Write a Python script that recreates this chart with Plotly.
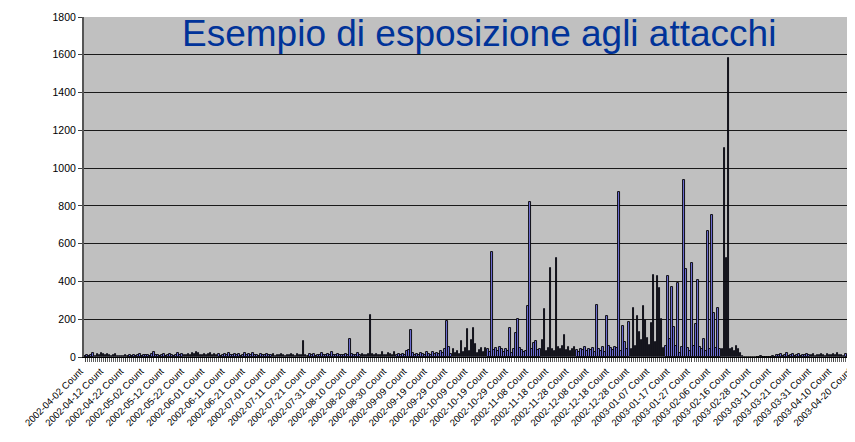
import plotly.graph_objects as go

# Daily attack counts (one value per category, in order)
counts = [
    5, 8, 3, 12, 20, 6, 14, 10, 22, 15,
    8, 18, 12, 5, 9, 14, 4, 7, 3, 6,
    10, 4, 8, 6, 12, 5, 9, 15, 7, 11,
    8, 13, 6, 18, 28, 9, 12, 6, 10, 14,
    7, 11, 16, 9, 6, 13, 20, 8, 15, 10,
    12, 18, 9, 22, 14, 24, 20, 8, 12, 16,
    10, 14, 20, 9, 15, 11, 18, 7, 13, 16,
    9, 21, 12, 8, 15, 10, 17, 6, 12, 19,
    11, 14, 8, 22, 10, 13, 7, 16, 9, 12,
    15, 8, 11, 18, 6, 12, 9, 14, 10, 7,
    13, 9, 16, 11, 6, 14, 8, 10, 85, 12,
    7, 18, 10, 15, 6, 12, 9, 20, 11, 8,
    14, 10, 25, 12, 9, 16, 8, 13, 10, 18,
    11, 95, 14, 8, 12, 20, 9, 15, 10, 13,
    18, 222, 14, 10, 16, 8, 12, 28, 11, 9,
    20, 15, 10, 24, 13, 18, 9, 16, 12, 30,
    35, 143, 20, 12, 18, 9, 22, 14, 10, 25,
    16, 12, 28, 14, 20, 18, 32, 22, 40, 190,
    53, 15, 42, 20, 31, 18, 85, 25, 48, 146,
    30, 90, 152, 69, 20, 35, 48, 28, 48, 40,
    25, 557, 35, 47, 30, 52, 40, 28, 45, 30,
    153, 22, 40, 127, 199, 47, 35, 28, 30, 270,
    820, 40, 74, 85, 35, 45, 90, 254, 30, 50,
    471, 45, 30, 524, 53, 40, 60, 115, 35, 52,
    30, 45, 52, 38, 25, 40, 35, 52, 30, 42,
    35, 48, 28, 273, 40, 30, 55, 25, 215, 60,
    50, 38, 55, 48, 871, 30, 164, 79, 45, 184,
    40, 257, 60, 216, 132, 90, 268, 196, 100, 65,
    178, 434, 80, 428, 365, 200, 47, 60, 428, 95,
    370, 160, 60, 391, 20, 55, 935, 464, 47, 30,
    496, 60, 176, 407, 55, 40, 95, 30, 667, 45,
    751, 234, 47, 257, 44, 40, 1105, 525, 1585, 44,
    47, 30, 58, 43, 20, 3, 2, 1, 0, 2,
    1, 2, 0, 1, 3, 1, 0, 2, 1, 2,
    3, 1, 12, 8, 15, 5, 10, 20, 6, 9,
    14, 7, 11, 18, 6, 12, 9, 15, 8, 11,
    16, 7, 13, 9, 18, 10, 6, 14, 11, 8,
    15, 12, 20, 9, 13, 7, 16, 11, 18, 10,
    12,
]

# Category labels shown on the axis (every 10th category)
tick_labels = [
    "2002-04-02 Count", "2002-04-12 Count", "2002-04-22 Count", "2002-05-02 Count",
    "2002-05-12 Count", "2002-05-22 Count", "2002-06-01 Count", "2002-06-11 Count",
    "2002-06-21 Count", "2002-07-01 Count", "2002-07-11 Count", "2002-07-21 Count",
    "2002-07-31 Count", "2002-08-10 Count", "2002-08-20 Count", "2002-08-30 Count",
    "2002-09-09 Count", "2002-09-19 Count", "2002-09-29 Count", "2002-10-09 Count",
    "2002-10-19 Count", "2002-10-29 Count", "2002-11-08 Count", "2002-11-18 Count",
    "2002-11-28 Count", "2002-12-08 Count", "2002-12-18 Count", "2002-12-28 Count",
    "2003-01-07 Count", "2003-01-17 Count", "2003-01-27 Count", "2003-02-06 Count",
    "2003-02-16 Count", "2003-02-28 Count", "2003-03-11 Count", "2003-03-21 Count",
    "2003-03-31 Count", "2003-04-10 Count", "2003-04-20 Count",
]
tick_step = 10
title_text = "Esempio di esposizione agli attacchi"

x_idx = list(range(len(counts)))
tick_vals = [i * tick_step for i in range(len(tick_labels))]

fig = go.Figure()
fig.add_trace(go.Bar(
    x=x_idx, y=counts, width=0.8,
    marker=dict(color="#7070d8", line=dict(color="#000000", width=0.9)),
    showlegend=False,
))

font_family = "Liberation Sans, Arial, sans-serif"
# page body adds an 8px offset, so the figure is kept 8px smaller than the window
fig.update_layout(
    width=847, height=426,
    margin=dict(l=76, r=0, t=9, b=77),
    paper_bgcolor="white",
    plot_bgcolor="#C0C0C0",
    font=dict(family=font_family, color="#000000"),
    bargap=0,
    annotations=[dict(
        text=title_text, xref="paper", yref="y", x=0.512, y=1712,
        xanchor="center", yanchor="middle", showarrow=False,
        font=dict(family=font_family, size=37, color="#003399"),
    )],
)
fig.update_xaxes(
    range=[-0.6, len(counts) - 0.4],
    tickmode="array", tickvals=tick_vals, ticktext=tick_labels,
    tickangle=-45, tickfont=dict(size=9.6, family=font_family),
    ticklabeloverflow="allow", ticklabelshift=-5,
    ticks="outside", ticklen=4, tickcolor="#404040",
    minor=dict(dtick=1, ticks="outside", ticklen=4, tickcolor="#606060"),
    showgrid=False, zeroline=False,
    showline=True, linecolor="#000000", linewidth=1,
    automargin=False,
)
fig.update_yaxes(
    range=[0, 1800], dtick=200,
    tickfont=dict(size=10.5, family=font_family),
    ticks="outside", ticklen=4, tickcolor="#404040",
    showgrid=True, gridcolor="#1a1a1a", gridwidth=1,
    zeroline=False,
    showline=True, linecolor="#555555", linewidth=2,
    mirror=False, automargin=False,
)
fig.write_html("out.html")
